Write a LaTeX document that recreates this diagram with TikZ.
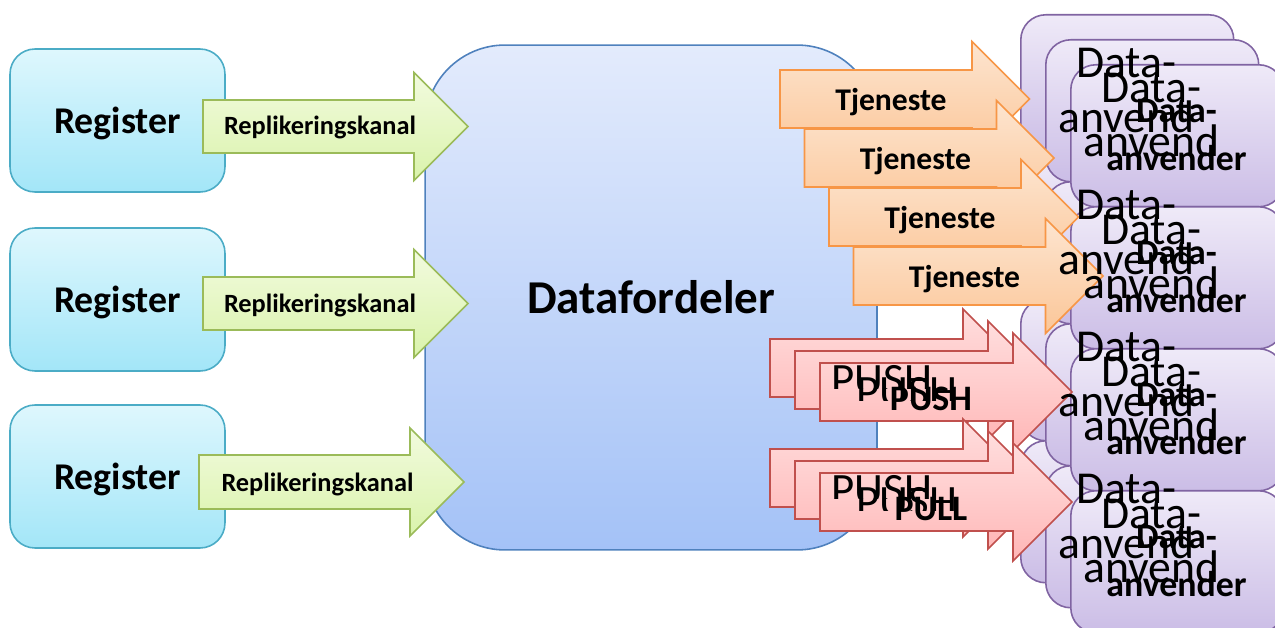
\documentclass[tikz,border=0pt]{standalone}
\usepackage{fontspec}
\setmainfont{Carlito}
\usetikzlibrary{calc}
\definecolor{regtop}{RGB}{222,247,253}
\definecolor{regbot}{RGB}{163,230,248}
\definecolor{regline}{RGB}{75,172,198}
\definecolor{kanaltop}{RGB}{242,251,222}
\definecolor{kanalbot}{RGB}{218,243,172}
\definecolor{kanalline}{RGB}{155,187,89}
\definecolor{disttop}{RGB}{227,235,252}
\definecolor{distbot}{RGB}{164,194,247}
\definecolor{distline}{RGB}{79,129,189}
\definecolor{tjtop}{RGB}{253,229,208}
\definecolor{tjbot}{RGB}{251,198,152}
\definecolor{tjline}{RGB}{247,150,70}
\definecolor{pushtop}{RGB}{255,222,222}
\definecolor{pushbot}{RGB}{255,182,182}
\definecolor{pushline}{RGB}{192,80,77}
\definecolor{anvtop}{RGB}{239,234,248}
\definecolor{anvbot}{RGB}{203,189,230}
\definecolor{anvline}{RGB}{128,100,162}
% block arrow: style, mid-left point, body length, body height, head extend
\newcommand{\blockarrow}[5]{%
  \draw[#1] (#2) ++(0,{-(#4)/2}) -- ++(#3,0) -- ++(0,{-(#5)})
    -- ++({(#4)/2+(#5)},{(#4)/2+(#5)}) -- ++({-(#4)/2-(#5)},{(#4)/2+(#5)})
    -- ++(0,{-(#5)}) -- ++({-(#3)},0) -- cycle;}

\begin{document}
\begin{tikzpicture}[x=0.02cm,y=-0.02cm,line width=0.9pt,line join=miter,
  regbox/.style={draw=regline,top color=regtop,bottom color=regbot,rounded corners=0.5cm,
    minimum width=4.3cm,minimum height=2.86cm,inner sep=0pt,text depth=0pt,
    font=\fontsize{21.5}{25}\selectfont\bfseries},
  distbox/.style={draw=distline,top color=disttop,bottom color=distbot,rounded corners=1.6cm,
    minimum width=9.04cm,minimum height=10.1cm,inner sep=0pt,
    font=\fontsize{26.8}{32}\selectfont\bfseries},
  anvbox/.style={draw=anvline,top color=anvtop,bottom color=anvbot,rounded corners=0.5cm,
    minimum width=4.26cm,minimum height=2.84cm,anchor=north west},
  kanal/.style={draw=kanalline,top color=kanaltop,bottom color=kanalbot},
  tjarrow/.style={draw=tjline,top color=tjtop,bottom color=tjbot},
  pusharrow/.style={draw=pushline,top color=pushtop,bottom color=pushbot},
  kanaltext/.style={anchor=base,inner sep=0pt,font=\fontsize{15}{18}\selectfont\bfseries},
  tjtext/.style={anchor=base,inner sep=0pt,font=\fontsize{18}{22}\selectfont\bfseries},
  pushtext/.style={anchor=base,inner sep=0pt,font=\fontsize{20.4}{24}\selectfont\bfseries},
  pushbig/.style={anchor=base,inner sep=0pt,font=\fontsize{25.5}{30}\selectfont},
  anvbig/.style={align=center,inner sep=0pt,font=\fontsize{26}{31.2}\selectfont},
  anvtext/.style={align=center,inner sep=0pt,font=\fontsize{20.4}{27.8}\selectfont\bfseries}]
  \useasboundingbox (0,0) rectangle (1275,628);

  \node[regbox] (reg1) at (117.5,120.5) {Register};
  \node[regbox] (reg2) at (117.5,299.5) {Register};
  \node[regbox] (reg3) at (117.5,476.5) {Register};
  \node[distbox] (dist) at (651,297.5) {Datafordeler};

  % data users, back to front
  \node[anvbox] (anv1a) at (1020,14) {};
  \node[anvbox] (anv2a) at (1020,156) {};
  \node[anvbox] (anv3a) at (1020,298) {};
  \node[anvbox] (anv4a) at (1020,440) {};
  \node[anvbox] (anv1b) at (1045,39) {};
  \node[anvbox] (anv2b) at (1045,181) {};
  \node[anvbox] (anv3b) at (1045,323) {};
  \node[anvbox] (anv4b) at (1045,465) {};
  \node[anvbox] (anv1c) at (1070,64) {};
  \node[anvbox] (anv2c) at (1070,206) {};
  \node[anvbox] (anv3c) at (1070,348) {};
  \node[anvbox] (anv4c) at (1070,490) {};

  \coordinate (ks1) at (203,126.5);
  \coordinate (ks2) at (203,303.5);
  \coordinate (ks3) at (199,482);
  \blockarrow{kanal}{ks1}{211}{53}{27.5}
  \blockarrow{kanal}{ks2}{211}{53}{27.5}
  \blockarrow{kanal}{ks3}{211}{54}{27}

  \coordinate (ts1) at (780,99);
  \coordinate (ts2) at (804.5,158);
  \coordinate (ts3) at (829,217);
  \coordinate (ts4) at (853.5,276);
  \blockarrow{tjarrow}{ts1}{192}{58}{28.5}
  \blockarrow{tjarrow}{ts2}{192}{58}{28.5}
  \blockarrow{tjarrow}{ts3}{192}{58}{28.5}
  \blockarrow{tjarrow}{ts4}{192}{58}{28.5}

  \coordinate (ps1) at (770,368);
  \coordinate (ps2) at (795,380);
  \coordinate (ps3) at (820,392);
  \coordinate (ls1) at (770,478);
  \coordinate (ls2) at (795,490);
  \coordinate (ls3) at (820,502);
  \blockarrow{pusharrow}{ps1}{193}{58}{30}
  \blockarrow{pusharrow}{ps2}{193}{58}{30}
  \blockarrow{pusharrow}{ps3}{193}{58}{30}
  \blockarrow{pusharrow}{ls1}{193}{58}{30}
  \blockarrow{pusharrow}{ls2}{193}{58}{30}
  \blockarrow{pusharrow}{ls3}{193}{58}{30}

  % all texts on top
  \node[kanaltext] (kanal1) at (320,135) {Replikeringskanal};
  \node[kanaltext] (kanal2) at (320,312.5) {Replikeringskanal};
  \node[kanaltext] (kanal3) at (317.5,491) {Replikeringskanal};

  \node[tjtext] (tj1) at (891,110.5) {Tjeneste};
  \node[tjtext] (tj2) at (915.5,169.5) {Tjeneste};
  \node[tjtext] (tj3) at (940,228.5) {Tjeneste};
  \node[tjtext] (tj4) at (964.5,287.5) {Tjeneste};

  \begin{scope}
    \clip (770,339) rectangle (990,388);
    \node[pushbig] (push1) at (882,394) {PUSH};
  \end{scope}
  \begin{scope}
    \clip (795,351) rectangle (1010,400);
    \node[pushbig] (push2) at (907,406) {PUSH};
  \end{scope}
  \node[pushtext] (push3) at (931,410) {PUSH};
  \begin{scope}
    \clip (770,449) rectangle (990,498);
    \node[pushbig] (pull1) at (882,504) {PUSH};
  \end{scope}
  \begin{scope}
    \clip (795,461) rectangle (1010,510);
    \node[pushbig] (pull2) at (907,516) {PUSH};
  \end{scope}
  \node[pushtext] (pull3) at (931,520) {PULL};

  \node[anvbig] (ta1) at (1126.5,90.5) {Data-\\anvend};
  \node[anvbig] (ta2) at (1126.5,232.5) {Data-\\anvend};
  \node[anvbig] (ta3) at (1126.5,374.5) {Data-\\anvend};
  \node[anvbig] (ta4) at (1126.5,516.5) {Data-\\anvend};
  \node[anvbig] (tb1) at (1151.5,115) {Data-\\anvend};
  \node[anvbig] (tb2) at (1151.5,257) {Data-\\anvend};
  \node[anvbig] (tb3) at (1151.5,399) {Data-\\anvend};
  \node[anvbig] (tb4) at (1151.5,541) {Data-\\anvend};
  \node[anvtext] (tc1) at (1176.5,135) {Data-\\anvender};
  \node[anvtext] (tc2) at (1176.5,277) {Data-\\anvender};
  \node[anvtext] (tc3) at (1176.5,419) {Data-\\anvender};
  \node[anvtext] (tc4) at (1176.5,561) {Data-\\anvender};
\end{tikzpicture}
\end{document}
